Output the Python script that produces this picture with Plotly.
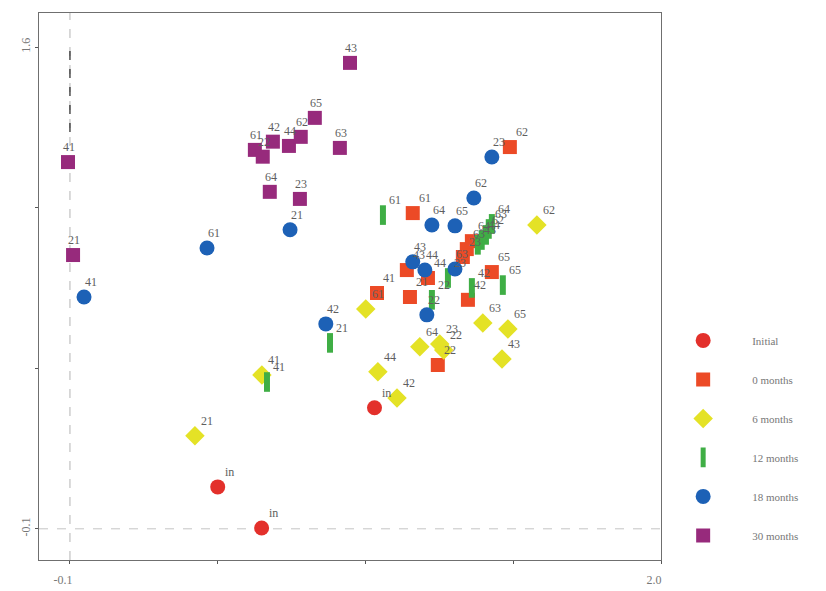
import plotly.graph_objects as go

# Ordination scores per sampling time; each point is labelled with its site code
initial_sites = ["in", "in", "in"]
initial_x = [0.425, 0.581, 0.982]
initial_y = [0.048, -0.097, 0.327]

m0_sites = ["62", "61", "41", "43", "44", "65", "21", "42", "22", "23", "63", "64"]
m0_x = [1.463, 1.118, 0.991, 1.097, 1.172, 1.399, 1.108, 1.314, 1.207, 1.296, 1.310, 1.328]
m0_y = [1.247, 1.014, 0.732, 0.813, 0.785, 0.806, 0.718, 0.708, 0.478, 0.859, 0.887, 0.915]

m6_sites = ["62", "63", "65", "43", "64", "23", "22", "44", "42", "41", "21", "61"]
m6_x = [1.559, 1.367, 1.456, 1.435, 1.143, 1.214, 1.228, 0.994, 1.062, 0.582, 0.344, 0.951]
m6_y = [0.972, 0.626, 0.605, 0.499, 0.542, 0.552, 0.531, 0.454, 0.362, 0.443, 0.228, 0.676]

m12_sites = ["41", "21", "61", "22", "42", "65", "23", "43", "44", "62", "63", "64"]
m12_x = [0.600, 0.824, 1.012, 1.186, 1.328, 1.438, 1.243, 1.349, 1.363, 1.378, 1.388, 1.399]
m12_y = [0.418, 0.556, 1.007, 0.708, 0.750, 0.760, 0.785, 0.902, 0.919, 0.937, 0.958, 0.976]

m18_sites = ["41", "61", "21", "42", "23", "62", "64", "65", "43", "44", "63", "22"]
m18_x = [-0.050, 0.387, 0.682, 0.809, 1.399, 1.335, 1.186, 1.268, 1.118, 1.161, 1.268, 1.168]
m18_y = [0.718, 0.891, 0.955, 0.623, 1.212, 1.067, 0.972, 0.969, 0.842, 0.813, 0.817, 0.655]

m30_sites = ["41", "21", "43", "65", "63", "64", "23", "61", "22", "42", "44", "62"]
m30_x = [-0.107, -0.089, 0.895, 0.770, 0.859, 0.610, 0.717, 0.557, 0.585, 0.621, 0.678, 0.720]
m30_y = [1.194, 0.866, 1.544, 1.350, 1.244, 1.089, 1.064, 1.237, 1.213, 1.266, 1.251, 1.283]

x_tickvals = [-0.1, 0.425, 0.95, 1.475, 2.0]
x_ticktext = ["-0.1", "", "", "", "2.0"]
y_tickvals = [-0.1, 0.4667, 1.0333, 1.6]
y_ticktext = ["-0.1", "", "", "1.6"]

SERIF = "Liberation Serif, Times New Roman, serif"
LABEL_GREY = "#5e5e5e"

# name, data, marker style, horizontal offset of the site labels (px)
series = [
    ("Initial", initial_x, initial_y, initial_sites,
     dict(symbol="circle", size=15, color="#e3302b"), 12),
    ("0 months", m0_x, m0_y, m0_sites,
     dict(symbol="square", size=14, color="#ec4a26"), 12),
    ("6 months", m6_x, m6_y, m6_sites,
     dict(symbol="diamond", size=15, color="#e4e226"), 12),
    ("12 months", m12_x, m12_y, m12_sites,
     dict(symbol="line-ns-open", size=14, color="#3fae45",
          line=dict(color="#3fae45", width=6)), 12),
    ("18 months", m18_x, m18_y, m18_sites,
     dict(symbol="circle", size=15, color="#1d61b6"), 7),
    ("30 months", m30_x, m30_y, m30_sites,
     dict(symbol="square", size=14, color="#972a7c"), 1),
]

fig = go.Figure()

for name, xs, ys, labels, marker, dx in series:
    fig.add_trace(go.Scatter(
        x=xs, y=ys, mode="markers", name=name,
        legendgroup=name, marker=marker, cliponaxis=False,
    ))
    for xv, yv, lab in zip(xs, ys, labels):
        fig.add_annotation(
            x=xv, y=yv, text=lab, showarrow=False,
            xshift=dx, yshift=15,
            font=dict(family=SERIF, size=12, color=LABEL_GREY),
        )

# Dashed reference lines through the origin of the ordination
fig.add_shape(type="line", xref="x", yref="y", x0=-0.1, x1=-0.1, y0=-0.21, y1=1.72,
              line=dict(color="#b5b5b5", width=1, dash="dash"), layer="below")
fig.add_shape(type="line", xref="x", yref="y", x0=-0.1, x1=-0.1, y0=1.3, y1=1.6,
              line=dict(color="#222222", width=1.2, dash="dash"), layer="below")
fig.add_shape(type="line", xref="x", yref="y", x0=-0.21, x1=2.0, y0=-0.1, y1=-0.1,
              line=dict(color="#c4c4c4", width=1, dash="dash"), layer="below")

axis_common = dict(
    showgrid=False, zeroline=False, showline=True, mirror=True,
    linecolor="#6f6f6f", linewidth=1.2, automargin=False,
    ticks="outside", ticklen=3, tickcolor="#555555",
    tickfont=dict(family=SERIF, size=12, color="#777777"),
)

fig.update_layout(
    width=826, height=591,
    margin=dict(l=39, r=165, t=13, b=31),
    paper_bgcolor="white", plot_bgcolor="white",
    xaxis=dict(range=[-0.21, 2.0], tickmode="array",
               tickvals=x_tickvals, ticktext=x_ticktext,
               ticklabelshift=-7, ticklabelstandoff=5, **axis_common),
    yaxis=dict(range=[-0.21, 1.72], tickmode="array",
               tickvals=y_tickvals, ticktext=y_ticktext, tickangle=-90,
               **axis_common),
    legend=dict(x=0.989, y=0.428, xanchor="left", yanchor="top",
                font=dict(family=SERIF, size=11, color="#777777"),
                tracegroupgap=20, itemwidth=88, bgcolor="rgba(0,0,0,0)",
                itemsizing="trace"),
    showlegend=True,
)

fig.write_html("out.html")
